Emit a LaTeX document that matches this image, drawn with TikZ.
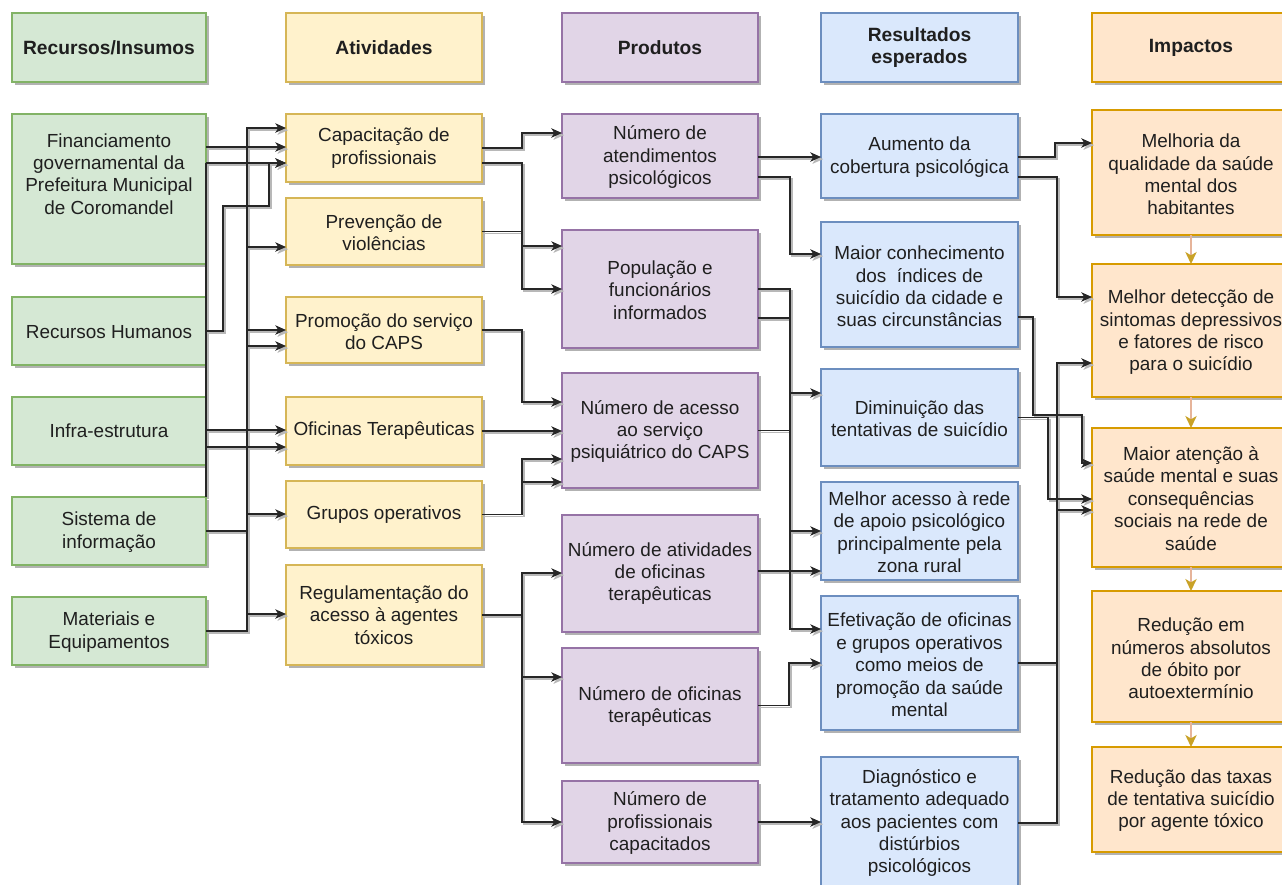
\documentclass[tikz,border=0pt]{standalone}
\usepackage{fontspec}
\setmainfont{Liberation Sans}
\usetikzlibrary{arrows.meta,shadows}
\definecolor{gF}{HTML}{D5E8D4}\definecolor{gD}{HTML}{82B366}
\definecolor{yF}{HTML}{FFF2CC}\definecolor{yD}{HTML}{D6B656}
\definecolor{pF}{HTML}{E1D5E7}\definecolor{pD}{HTML}{9673A6}
\definecolor{bF}{HTML}{DAE8FC}\definecolor{bD}{HTML}{6C8EBF}
\definecolor{oF}{HTML}{FFE6CC}\definecolor{oD}{HTML}{D79B00}
\definecolor{impL}{HTML}{E6B49A}\definecolor{impH}{HTML}{C9A227}
\newcommand\mybox[8]{%
  \node[#1, minimum width={(#5-#3)*0.75pt}, minimum height={(#6-#4)*0.75pt}] (#2) at ({(#3+#5)/2},{(#4+#6)/2}) {};
  \node[txt] (#2-t) at ({(#3+#5)/2},{(#4+#6)/2+#8}) {#7};}
\newcommand\edgelist{%
  % Recursos -> Atividades
  \draw[ea] (fin.east|-0,147) -- (cap.west|-0,147);
  \draw[ea] (fin.east|-0,163) -- (cap.west|-0,163);
  \draw[ed] (fin.east|-0,163) -- (sis.north east);
  \draw[ea] (rh.east) -| (223,206) -| (269,163) -- (cap.west|-0,163);
  \draw[ea] (mat.east) -| (247,128) -- (cap.west|-0,128);
  \draw[ea] (mat.east) -| (247,247) -- (prev.west|-0,247);
  \draw[ea] (sis.east) -| (247,330) -- (prom.west|-0,330);
  \draw[ea] (sis.east) -| (247,346) -- (prom.west|-0,346);
  \draw[ea] (inf.east|-0,430) -- (ofi.west|-0,430);
  \draw[ea] (inf.east|-0,447) -- (ofi.west|-0,447);
  \draw[ea] (sis.east) -| (247,514) -- (grup.west|-0,514);
  \draw[ea] (mat.east) -| (247,614) -- (reg.west|-0,614);
  % Atividades -> Produtos
  \draw[ea] (cap.east|-0,148) -| (522,133) -- (atend.west|-0,133);
  \draw[ea] (cap.east|-0,163) -| (522,246) -- (pop.west|-0,246);
  \draw[ea] (prev.east) -| (522,289) -- (pop.west|-0,289);
  \draw[ea] (prom.east) -| (522,402) -- (acc.west|-0,402);
  \draw[ea] (ofi.east|-0,431) -- (acc.west|-0,431);
  \draw[ea] (grup.east) -| (522,459) -- (acc.west|-0,459);
  \draw[ea] (grup.east) -| (522,482) -- (acc.west|-0,482);
  \draw[ea] (reg.east) -| (522,573) -- (ativ.west|-0,573);
  \draw[ea] (reg.east) -| (522,677) -- (ofic.west|-0,677);
  \draw[ea] (reg.east) -| (522,822) -- (prof.west|-0,822);
  % Produtos -> Resultados
  \draw[ea] (atend.east|-0,157) -- (aum.west|-0,157);
  \draw[ea] (atend.east|-0,177) -| (790,254) -- (conh.west|-0,254);
  \draw[ea] (pop.east|-0,318) -| (790,393) -- (dim.west|-0,393);
  \draw[ea] (acc.east) -| (790,531) -- (mac.west|-0,531);
  \draw[ea] (ativ.east|-0,571) -- (mac.west|-0,571);
  \draw[ea] (pop.east|-0,289) -| (790,629) -- (efe.west|-0,629);
  \draw[ea] (ofic.east) -| (789,663) -- (efe.west|-0,663);
  \draw[ea] (prof.east) -- (diag.west|-prof.east);
  % Resultados -> Impactos
  \draw[ea] (aum.east|-0,157) -| (1055,143) -- (mel.west|-0,143);
  \draw[ea] (aum.east|-0,177) -| (1057,297) -- (det.west|-0,297);
  \draw[ea] (conh.east|-0,317) -| (1033,415) -| (1082,463) -- (ate.west|-0,463);
  \draw[ea] (dim.east) -| (1048,499) -- (ate.west|-0,499);
  \draw[ea] (efe.east) -| (1057,363) -- (det.west|-0,363);
  \draw[ea] (diag.east) -| (1057,510) -- (ate.west|-0,510);
}
\begin{document}
\begin{tikzpicture}[x=0.75pt,y=-0.75pt,
  box/.style={rectangle, inner sep=0pt, outer sep=0pt, line width=0.8pt,
    drop shadow={shadow xshift=2pt, shadow yshift=-2pt, opacity=0.3, fill=black}},
  green/.style={box, fill=gF, draw=gD},
  yellow/.style={box, fill=yF, draw=yD},
  purple/.style={box, fill=pF, draw=pD},
  blue/.style={box, fill=bF, draw=bD},
  orange/.style={box, fill=oF, draw=oD},
  txt/.style={align=center, inner sep=0pt, text=black!88,
    font=\fontsize{14.2}{16.8}\selectfont},
  ia/.style={draw=impL, line width=1.1pt, -{Stealth[length=9pt,width=8.5pt,inset=2.5pt,color=impH]}}]
\fill[white] (0,0) rectangle (1282,885);
\useasboundingbox (0,0) rectangle (1282,885);
% headers
\begin{scope}[txt/.append style={font=\fontsize{14.4}{16.8}\selectfont\bfseries}]
\mybox{green}{hrec}{12}{13}{206}{82}{Recursos/Insumos}{0}
\mybox{yellow}{hati}{286}{13}{482}{82}{Atividades}{0}
\mybox{purple}{hpro}{562}{13}{758}{82}{Produtos}{0}
\mybox{blue}{hres}{821}{13}{1018}{82}{Resultados\\esperados}{0}
\mybox{orange}{himp}{1092}{13}{1290}{82}{Impactos}{0}
\end{scope}
% Recursos
\mybox{green}{fin}{12}{114}{206}{264}{Financiamento\\governamental da\\Prefeitura Municipal\\de Coromandel}{-15}
\mybox{green}{rh}{12}{297}{206}{365}{Recursos Humanos}{1}
\mybox{green}{inf}{12}{397}{206}{465}{Infra-estrutura}{0}
\mybox{green}{sis}{12}{497}{206}{565}{Sistema de\\informação}{1}
\mybox{green}{mat}{12}{597}{206}{665}{Materiais e\\Equipamentos}{1}
% Atividades
\mybox{yellow}{cap}{286}{114}{482}{182}{Capacitação de\\profissionais}{0}
\mybox{yellow}{prev}{286}{198}{482}{265}{Prevenção de\\violências}{1}
\mybox{yellow}{prom}{286}{297}{482}{363}{Promoção do serviço\\do CAPS}{2}
\mybox{yellow}{ofi}{286}{397}{482}{465}{Oficinas Terapêuticas}{0}
\mybox{yellow}{grup}{286}{481}{482}{548}{Grupos operativos}{0}
\mybox{yellow}{reg}{286}{565}{482}{665}{Regulamentação do\\acesso à agentes\\tóxicos}{0}
% Produtos
\mybox{purple}{atend}{562}{114}{758}{198}{Número de\\atendimentos\\psicológicos}{1}
\mybox{purple}{pop}{562}{230}{758}{348}{População e\\funcionários\\informados}{1}
\mybox{purple}{acc}{562}{373}{758}{488}{Número de acesso\\ao serviço\\psiquiátrico do CAPS}{1}
\mybox{purple}{ativ}{562}{515}{758}{632}{Número de atividades\\de oficinas\\terapêuticas}{0}
\mybox{purple}{ofic}{562}{648}{758}{763}{Número de oficinas\\terapêuticas}{1}
\mybox{purple}{prof}{562}{781}{758}{863}{Número de\\profissionais\\capacitados}{1}
% Resultados
\mybox{blue}{aum}{821}{114}{1018}{198}{Aumento da\\cobertura psicológica}{1}
\mybox{blue}{conh}{821}{222}{1018}{347}{Maior conhecimento\\dos\ \ índices de\\suicídio da cidade e\\suas circunstâncias}{2}
\mybox{blue}{dim}{821}{369}{1018}{466}{Diminuição das\\tentativas de suicídio}{1}
\mybox{blue}{mac}{821}{482}{1018}{580}{Melhor acesso à rede\\de apoio psicológico\\principalmente pela\\zona rural}{1}
\mybox{blue}{efe}{821}{596}{1018}{730}{Efetivação de oficinas\\e grupos operativos\\como meios de\\promoção da saúde\\mental}{2}
\mybox{blue}{diag}{821}{757}{1018}{889}{Diagnóstico e\\tratamento adequado\\aos pacientes com\\distúrbios\\psicológicos}{0}
% Impactos
\mybox{orange}{mel}{1092}{110}{1290}{235}{Melhoria da\\qualidade da saúde\\mental dos\\habitantes}{2}
\mybox{orange}{det}{1092}{264}{1290}{397}{Melhor detecção de\\sintomas depressivos\\e fatores de risco\\para o suicídio}{2}
\mybox{orange}{ate}{1092}{428}{1290}{567}{Maior atenção à\\saúde mental e suas\\consequências\\sociais na rede de\\saúde}{1}
\mybox{orange}{red}{1092}{591}{1290}{722}{Redução em\\números absolutos\\de óbito por\\autoextermínio}{2}
\mybox{orange}{tax}{1092}{747}{1290}{852}{Redução das taxas\\de tentativa suicídio\\por agente tóxico}{1}
% impact chain
\draw[ia] (mel) -- (det);
\draw[ia] (det) -- (ate);
\draw[ia] (ate) -- (red);
\draw[ia] (red) -- (tax);
% connectors: shadow pass, then main pass
\begin{scope}[transform canvas={xshift=1.6pt,yshift=-1.6pt},
  ed/.style={draw=black!28, line width=1.1pt},
  ea/.style={ed, -{Stealth[length=8pt,width=7pt,inset=2.2pt]}}]
\edgelist
\end{scope}
\begin{scope}[ed/.style={draw=black!85, line width=1.1pt},
  ea/.style={ed, -{Stealth[length=8pt,width=7pt,inset=2.2pt]}}]
\edgelist
\end{scope}
\end{tikzpicture}
\end{document}
